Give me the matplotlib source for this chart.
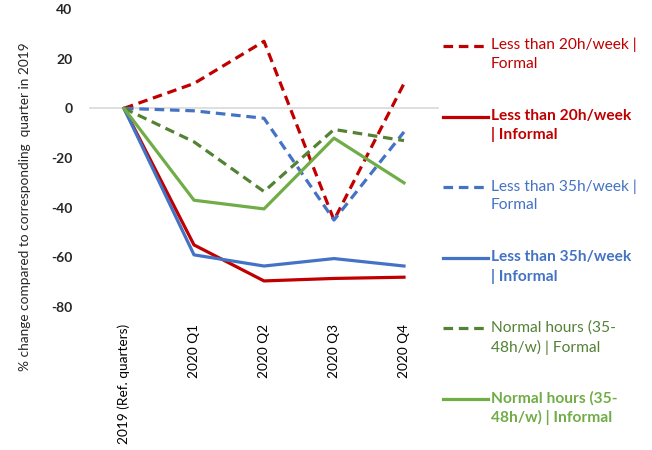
import matplotlib
matplotlib.use("Agg")
import matplotlib.pyplot as plt
from matplotlib.lines import Line2D

plt.rcParams["font.family"] = ["Lato", "DejaVu Sans"]

# ── Data ──────────────────────────────────────────────────────────────────────
quarters = ["2019 (Ref. quarters)", "2020 Q1", "2020 Q2", "2020 Q3", "2020 Q4"]

lt20_formal = [0, 10, 27, -45, 10]
lt20_informal = [0, -55, -69.5, -68.5, -68]
lt35_formal = [0, -1, -4, -45, -9.5]
lt35_informal = [0, -59, -63.5, -60.5, -63.5]
normal_formal = [0, -13.5, -33.5, -8.5, -13]
normal_informal = [0, -37, -40.5, -12, -30]

series = [
    ("Less than 20h/week |\nFormal", lt20_formal, "#C00000", "--", False),
    ("Less than 20h/week\n| Informal", lt20_informal, "#C00000", "-", True),
    ("Less than 35h/week |\nFormal", lt35_formal, "#4472C4", "--", False),
    ("Less than 35h/week\n| Informal", lt35_informal, "#4472C4", "-", True),
    ("Normal hours (35-\n48h/w) | Formal", normal_formal, "#548235", "--", False),
    ("Normal hours (35-\n48h/w) | Informal", normal_informal, "#70AD47", "-", True),
]
DASH = (0, (3, 1.8))

W, H = 652, 450
fig = plt.figure(figsize=(W / 100, H / 100), dpi=100)
fig.patch.set_facecolor("white")
ax = fig.add_axes([89 / W, (H - 307) / H, (439 - 89) / W, (307 - 9) / H])

x = list(range(len(quarters)))
ax.axhline(0, color="#D9D9D9", linewidth=1.2, zorder=1)
for label, vals, color, ls, bold in series:
    ax.plot(x, vals, color=color, linewidth=2.3, zorder=3,
            linestyle=DASH if ls == "--" else "-")

ax.set_xlim(-0.5, len(quarters) - 0.5)
ax.set_ylim(-80, 40)
ax.set_yticks(range(-80, 41, 20))
ax.set_yticklabels([str(v) for v in range(-80, 41, 20)], fontweight="bold",
                   fontsize=10, color="#262626")
ax.set_xticks(x)
ax.set_xticklabels(quarters, rotation=90, fontsize=9.8, color="#000000",
                   va="top", ha="center")
ax.tick_params(axis="both", length=0)
ax.tick_params(axis="y", pad=12)
ax.tick_params(axis="x", pad=12)
for sp in ax.spines.values():
    sp.set_visible(False)

fig.text(25 / W, 1 - 207 / H,
         "% change compared to corresponding  quarter in 2019",
         rotation=90, ha="center", va="center", fontsize=9.8, color="#262626")

# ── Manual legend on the right ────────────────────────────────────────────────
y0, step = 46, 70.6
for i, (label, vals, color, ls, bold) in enumerate(series):
    yl = y0 + i * step
    yf = 1 - yl / H
    fig.add_artist(Line2D([443 / W, 488 / W], [yf, yf], color=color, linewidth=2.3,
                          linestyle=DASH if ls == "--" else "-",
                          transform=fig.transFigure))
    fig.text(491 / W, yf + 8 / H, label, ha="left", va="top", fontsize=11.2,
             color=color, fontweight="bold" if bold else "normal",
             linespacing=1.4)

fig.savefig("out.png", dpi=100, facecolor=fig.get_facecolor())
